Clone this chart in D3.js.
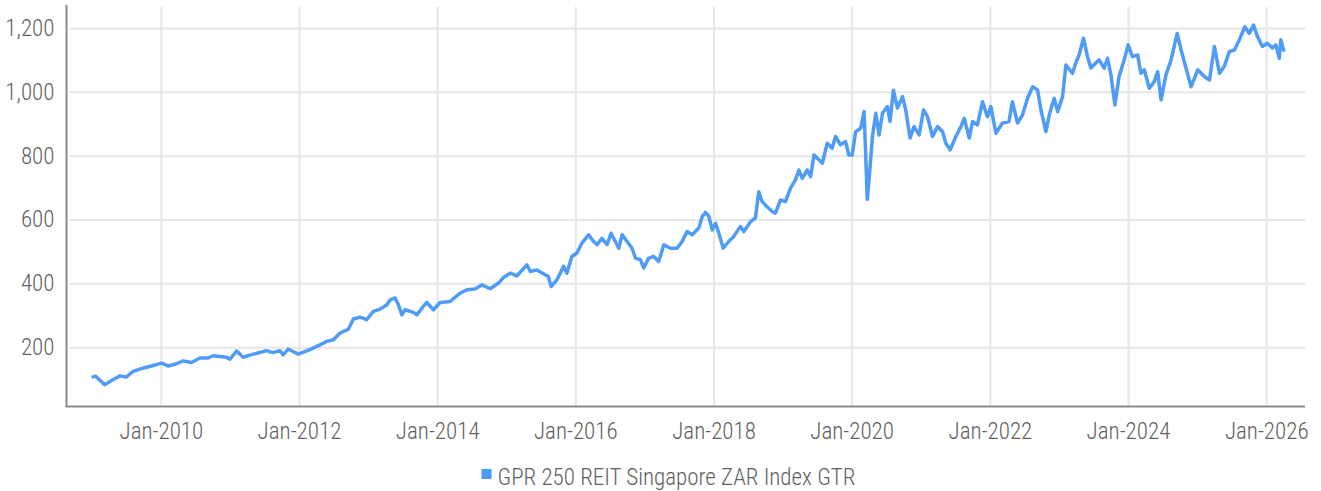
<!DOCTYPE html>
<html>
<head>
<meta charset="utf-8">
<script src="https://cdn.jsdelivr.net/npm/d3@7"></script>
<style>
  body { margin: 0; background: #fff; }
  svg text { font-family: "Roboto Condensed", "Roboto", sans-serif; font-stretch: condensed; font-weight: 300; fill: #5f5f5f; }
</style>
</head>
<body>
<div id="chart"></div>
<script>
// series
var seriesName = "GPR 250 REIT Singapore ZAR Index GTR";
var dates = [
  "2008-12-31","2009-01-20","2009-02-10","2009-03-10","2009-04-22","2009-05-30","2009-07-01","2009-08-07","2009-09-28","2009-11-12",
  "2010-01-04","2010-02-08","2010-03-25","2010-04-28","2010-06-12","2010-07-26","2010-09-08","2010-10-04","2010-12-14","2011-01-01",
  "2011-02-05","2011-03-12","2011-04-16","2011-06-08","2011-07-13","2011-08-17","2011-09-22","2011-10-09","2011-11-05","2011-12-28",
  "2012-02-28","2012-04-21","2012-05-27","2012-07-01","2012-08-05","2012-09-18","2012-10-15","2012-11-19","2012-12-24","2013-01-29",
  "2013-03-05","2013-04-10","2013-04-27","2013-05-23","2013-06-10","2013-06-28","2013-07-15","2013-08-28","2013-09-15","2013-10-12",
  "2013-11-07","2013-12-12","2014-01-16","2014-03-10","2014-05-02","2014-06-07","2014-07-20","2014-08-25","2014-10-08","2014-11-20",
  "2014-12-17","2015-01-22","2015-02-26","2015-04-20","2015-05-08","2015-06-12","2015-07-17","2015-08-12","2015-08-26","2015-09-26",
  "2015-10-31","2015-11-18","2015-12-14","2016-01-10","2016-02-05","2016-03-11","2016-04-07","2016-04-25","2016-05-21","2016-06-17",
  "2016-07-08","2016-07-31","2016-08-18","2016-09-05","2016-10-01","2016-10-27","2016-11-14","2016-12-10","2016-12-28","2017-01-23",
  "2017-02-19","2017-03-17","2017-04-13","2017-05-18","2017-06-22","2017-07-19","2017-08-14","2017-09-10","2017-10-15","2017-11-02",
  "2017-11-19","2017-12-07","2017-12-25","2018-01-12","2018-01-29","2018-02-21","2018-03-22","2018-04-18","2018-05-23","2018-06-10",
  "2018-07-15","2018-08-10","2018-08-28","2018-09-15","2018-10-11","2018-11-07","2018-11-24","2018-12-21","2019-01-16","2019-02-12",
  "2019-03-10","2019-03-28","2019-04-15","2019-05-11","2019-05-29","2019-06-16","2019-07-12","2019-07-30","2019-08-25","2019-09-20",
  "2019-10-08","2019-11-03","2019-11-30","2019-12-17","2020-01-04","2020-01-22","2020-02-18","2020-03-07","2020-03-15","2020-03-24",
  "2020-04-07","2020-04-20","2020-05-08","2020-05-25","2020-06-12","2020-07-08","2020-07-22","2020-08-09","2020-08-30","2020-09-26",
  "2020-10-13","2020-11-05","2020-11-26","2020-12-23","2021-01-15","2021-02-05","2021-03-04","2021-03-30","2021-04-26","2021-05-13",
  "2021-06-05","2021-07-05","2021-08-01","2021-08-18","2021-09-14","2021-10-01","2021-10-27","2021-11-23","2021-12-19","2022-01-06",
  "2022-02-02","2022-03-08","2022-04-12","2022-04-30","2022-05-27","2022-06-23","2022-07-19","2022-08-15","2022-09-10","2022-09-28",
  "2022-10-24","2022-11-11","2022-12-07","2022-12-25","2023-01-20","2023-02-07","2023-03-14","2023-03-31","2023-04-18","2023-05-11",
  "2023-06-01","2023-06-19","2023-07-15","2023-08-02","2023-08-28","2023-09-15","2023-10-03","2023-10-24","2023-11-15","2023-12-12",
  "2024-01-02","2024-01-25","2024-02-21","2024-03-09","2024-03-27","2024-04-23","2024-05-19","2024-06-06","2024-06-24","2024-07-20",
  "2024-08-16","2024-09-17","2024-10-08","2024-11-03","2024-11-30","2025-01-04","2025-02-08","2025-03-07","2025-04-02","2025-04-29",
  "2025-05-24","2025-06-20","2025-07-17","2025-08-12","2025-09-10","2025-10-03","2025-10-26","2025-11-16","2025-12-12","2026-01-07",
  "2026-02-03","2026-02-21","2026-03-11","2026-03-19","2026-04-05"
];
var values = [
  105,109,98,82,98,110,106,124,134,141,
  150,141,148,157,152,166,166,173,168,162,
  188,168,175,183,189,183,189,176,194,178,
  192,207,218,223,244,256,288,294,286,312,
  319,333,348,354,333,301,317,309,301,322,
  340,317,340,343,369,380,382,395,383,400,
  418,432,423,458,437,442,430,421,390,411,
  453,432,484,495,526,552,531,521,541,521,
  557,531,510,552,531,510,479,474,448,479,
  484,468,521,510,510,531,562,552,573,609,
  622,610,567,588,557,510,531,547,578,562,
  593,604,687,656,640,625,620,661,656,698,
  724,755,729,755,734,802,787,776,839,823,
  860,834,844,802,802,875,886,938,808,663,
  761,860,933,865,933,954,907,1005,949,985,
  943,855,891,865,943,922,860,891,875,839,
  818,860,891,917,855,907,896,969,922,954,
  870,902,907,969,902,928,980,1016,1006,943,
  875,928,980,938,985,1084,1058,1090,1116,1168,
  1110,1075,1090,1100,1074,1105,1053,959,1048,1100,
  1147,1110,1116,1058,1069,1011,1032,1063,975,1053,
  1100,1183,1131,1074,1016,1069,1048,1037,1142,1058,
  1079,1126,1131,1163,1204,1183,1209,1173,1142,1152,
  1137,1147,1105,1163,1126
];
var yTicks = [200, 400, 600, 800, 1000, 1200];
var xTickYears = [2010, 2012, 2014, 2016, 2018, 2020, 2022, 2024, 2026];

var WD = 1321, HT = 491;
var margin = { left: 66.5, right: 16, top: 5, bottom: 84.5 };
var width = WD - margin.left - margin.right;
var height = HT - margin.top - margin.bottom;
var lineColor = "#4f9bf8";

var parse = d3.timeParse("%Y-%m-%d");
var data = dates.map(function(d, i) { return { date: parse(d), value: values[i] }; });

var xs = d3.scaleTime()
  .domain([new Date(2008, 7, 20), new Date(2026, 6, 25)])
  .range([0, width]);
var ys = d3.scaleLinear().domain([14, 1272]).range([height, 0]);

var svg = d3.select("#chart").append("svg")
  .attr("width", WD)
  .attr("height", HT);

var g = svg.append("g").attr("transform", "translate(" + margin.left + "," + margin.top + ")");

// horizontal grid + y labels
var yAxis = d3.axisLeft(ys)
  .tickValues(yTicks)
  .tickFormat(d3.format(","))
  .tickSizeInner(-width)
  .tickSizeOuter(0)
  .tickPadding(12);
var gy = g.append("g").call(yAxis);
gy.select(".domain").remove();
gy.selectAll(".tick line").attr("stroke", "#e6e6e6").attr("stroke-width", 2).attr("x1", 3);
gy.selectAll(".tick text").style("font-size", "23px");

// vertical grid + x labels
var xTicks = xTickYears.map(function(y) { return new Date(y, 0, 1); });
var xAxis = d3.axisBottom(xs)
  .tickValues(xTicks)
  .tickFormat(d3.timeFormat("%b-%Y"))
  .tickSizeInner(-height)
  .tickSizeOuter(0)
  .tickPadding(16);
var gx = g.append("g").attr("transform", "translate(0," + height + ")").call(xAxis);
gx.select(".domain").remove();
gx.selectAll(".tick line").attr("stroke", "#e6e6e6").attr("stroke-width", 2).attr("y2", -height + 2);
gx.selectAll(".tick text").attr("y", 16).attr("dy", "0.71em").style("font-size", "23px");

// axis lines
g.append("line")
  .attr("x1", 0).attr("x2", 0).attr("y1", 0).attr("y2", height)
  .attr("stroke", "#8a8a8a").attr("stroke-width", 2);
g.append("line")
  .attr("x1", -1).attr("x2", width).attr("y1", height).attr("y2", height)
  .attr("stroke", "#8a8a8a").attr("stroke-width", 2);

// the series
var line = d3.line()
  .x(function(d) { return xs(d.date); })
  .y(function(d) { return ys(d.value); });

g.append("path")
  .datum(data)
  .attr("d", line)
  .attr("fill", "none")
  .attr("stroke", lineColor)
  .attr("stroke-width", 3.5)
  .attr("stroke-linejoin", "round");

// legend
var legend = svg.append("g");
legend.append("rect")
  .attr("x", 0).attr("y", -16)
  .attr("width", 10).attr("height", 10)
  .attr("fill", lineColor);
var lt = legend.append("text")
  .attr("x", 16).attr("y", 0)
  .style("font-size", "23px")
  .text(seriesName);
var lw = 16 + lt.node().getComputedTextLength();
legend.attr("transform", "translate(" + (668.5 - lw / 2) + ",485)");
</script>
</body>
</html>
